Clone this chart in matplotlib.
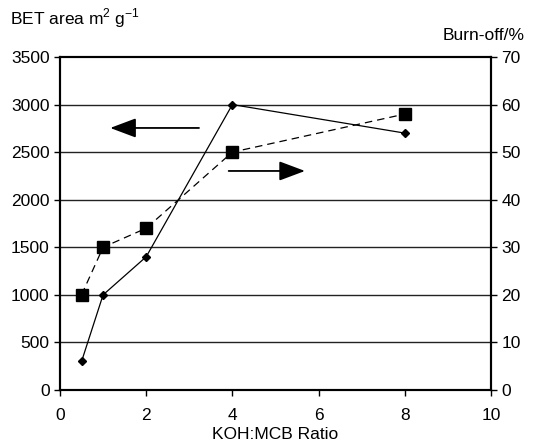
import matplotlib

matplotlib.use("Agg")

import matplotlib.pyplot as plt

plt.rcParams["font.family"] = ["Liberation Sans", "DejaVu Sans"]
plt.rcParams["mathtext.fontset"] = "custom"
plt.rcParams["mathtext.rm"] = "Liberation Sans"

ratio = [0.5, 1, 2, 4, 8]
bet_area = [300, 1000, 1400, 3000, 2700]
burn_off = [20, 30, 34, 50, 58]

IMAGE_DPI = 100.0
FS = 12.5

fig = plt.figure(figsize=(533 / IMAGE_DPI, 448 / IMAGE_DPI), dpi=IMAGE_DPI)
ax = fig.add_axes([0.1126, 0.1295, 0.8084, 0.7433])
ax2 = ax.twinx()

ax.set_xlim(0, 10)
ax.set_ylim(0, 3500)
ax2.set_ylim(0, 70)
ax.set_xticks(range(0, 11, 2))
ax.set_yticks(range(0, 3501, 500))
ax2.set_yticks(range(0, 71, 10))

for y in range(500, 3500, 500):
    ax.axhline(y, color="#222222", linewidth=1, zorder=0)

ax.plot(
    ratio,
    bet_area,
    color="black",
    linewidth=0.9,
    marker="D",
    markersize=4.5,
    zorder=3,
)
ax2.plot(
    ratio,
    burn_off,
    color="black",
    linewidth=0.9,
    linestyle=(0, (6, 4)),
    marker="s",
    markersize=8,
    zorder=3,
)

arrow = dict(arrowstyle="-|>,head_length=1.6,head_width=0.6", color="black", lw=1.3)
ax.annotate("", xy=(1.1, 2754), xytext=(3.29, 2754), arrowprops=arrow)
ax.annotate("", xy=(5.75, 2302), xytext=(3.85, 2302), arrowprops=arrow)

for a in (ax, ax2):
    a.tick_params(direction="out", length=4, width=1, labelsize=FS, colors="black")
    for s in a.spines.values():
        s.set_linewidth(1.5)
ax.tick_params(axis="x", pad=9)

ax.set_xlabel("KOH:MCB Ratio", fontsize=FS, labelpad=3)

fig.text(0.019, 0.945, "BET area m$^2$ g$^{-1}$", fontsize=FS, ha="left", va="baseline")
fig.text(0.985, 0.91, "Burn-off/%", fontsize=FS, ha="right", va="baseline")

plt.savefig("out.png", dpi=IMAGE_DPI)
